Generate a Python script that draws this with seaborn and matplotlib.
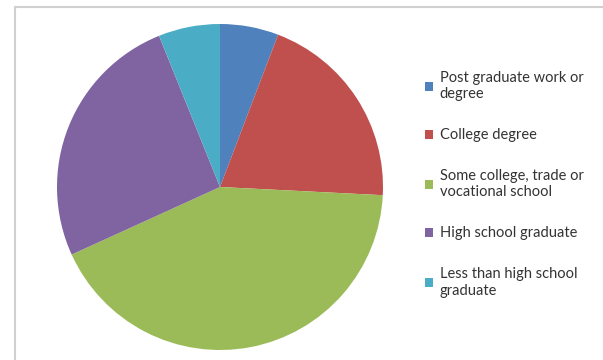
import matplotlib
matplotlib.use("Agg")
import matplotlib.pyplot as plt
import seaborn as sns
from matplotlib.lines import Line2D

categories = ["Post graduate work or\ndegree", "College degree",
              "Some college, trade or\nvocational school", "High school graduate",
              "Less than high school\ngraduate"]
values = [5.8, 20.0, 42.4, 25.7, 6.1]
colors = ["#4F81BD", "#C0504D", "#9BBB59", "#8064A2", "#4BACC6"]

sns.set_theme(style="white")
plt.rcParams['font.family'] = ['Lato', 'DejaVu Sans']

fig = plt.figure(figsize=(6.03, 3.6), dpi=100)
ax = fig.add_axes([57/603, 10/360, 326/603, 326/360])
wedges, _ = ax.pie(values, colors=colors, startangle=90, counterclock=False,
                   radius=1.0, wedgeprops=dict(linewidth=0))
ax.set_xlim(-1, 1)
ax.set_ylim(-1, 1)
ax.set_aspect("equal")
ax.axis("off")

# chart border (light gray)
fig.add_artist(Line2D([15/603, 1.0], [1 - 7/360, 1 - 7/360], transform=fig.transFigure,
                      color="#d0d0d0", linewidth=1.5))
fig.add_artist(Line2D([15/603, 15/603], [1 - 7/360, 0], transform=fig.transFigure,
                      color="#d0d0d0", linewidth=1.5))

leg = fig.legend(wedges, categories, loc="upper left",
                 bbox_to_anchor=(412/603, 1 - 58/360), frameon=False,
                 fontsize=10.5, handlelength=0.55, handleheight=0.55,
                 handletextpad=0.45, labelspacing=1.85, labelcolor="#333333")

fig.savefig("out.png", dpi=100)
